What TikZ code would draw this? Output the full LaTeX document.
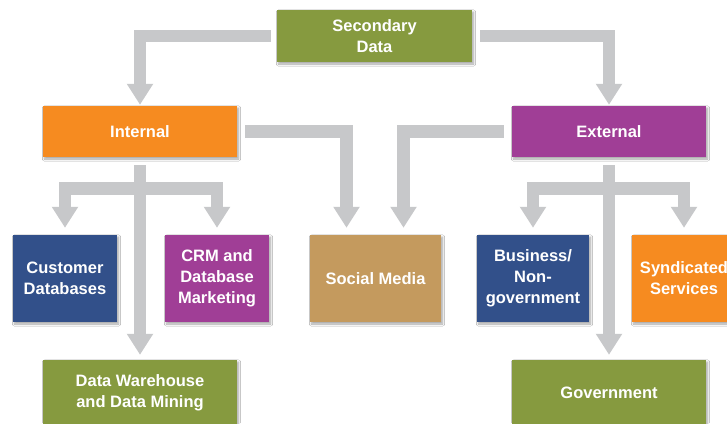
\documentclass[tikz,border=0pt]{standalone}
\usepackage{fontspec}
\setmainfont{Liberation Sans}
\usetikzlibrary{arrows.meta,shadows.blur}

\definecolor{boxgreen}{HTML}{869A3F}
\definecolor{boxorange}{HTML}{F68B20}
\definecolor{boxpurple}{HTML}{A03E96}
\definecolor{boxblue}{HTML}{32508A}
\definecolor{boxtan}{HTML}{C49A5E}
\definecolor{linkgray}{HTML}{C7C8CA}

\begin{document}
\begin{tikzpicture}[x=1pt,y=-1pt,
	box/.style={text=white,font=\bfseries\fontsize{16.5}{21}\selectfont,align=center,inner sep=0pt,
		blur shadow={shadow xshift=1.5pt,shadow yshift=-2pt,shadow blur steps=6,shadow opacity=35}},
	link/.style={draw=linkgray,line width=12.5pt,line join=miter,-{Triangle[width=25pt,length=21pt]}}]
	
	\useasboundingbox (0,0) rectangle (727,423);
	\fill[white] (0,0) rectangle (727,423);
	\clip (0,0) rectangle (727,423);
	
	% top and second row
	\node[box,fill=boxgreen,minimum width=195pt,minimum height=52pt] (sec) at (374.5,36) {Secondary\\Data};
	\node[box,fill=boxorange,minimum width=194pt,minimum height=51pt] (int) at (140,131.5) {Internal};
	\node[box,fill=boxpurple,minimum width=194pt,minimum height=51pt] (ext) at (609,131.5) {External};
	
	% third row
	\node[box,fill=boxblue,minimum width=104pt,minimum height=87pt] (cust) at (65,278.5) {Customer\\Databases};
	\node[box,fill=boxpurple,minimum width=104pt,minimum height=87pt] (crm) at (217,278.5) {CRM and\\Database\\Marketing};
	\node[box,fill=boxtan,minimum width=131pt,minimum height=87pt] (soc) at (375.5,278.5) {Social Media};
	\node[box,fill=boxblue,minimum width=112pt,minimum height=87pt] (bus) at (533,278.5) {Business/\\Non-\\government};
	\node[box,fill=boxorange,minimum width=104pt,minimum height=87pt] (syn) at (684,278.5) {Syndicated\\Services};
	
	% bottom row
	\node[box,fill=boxgreen,minimum width=194pt,minimum height=66pt] (dw) at (140,393) {Data Warehouse\\and Data Mining};
	\node[box,fill=boxgreen,minimum width=194pt,minimum height=66pt] (gov) at (609,393) {Government};
	
	\coordinate (ib) at (140,188.5);
	\coordinate (eb) at (609,188.5);
	
	\draw[link,shorten <=6pt,shorten >=1pt] (sec.west) -| (int.north);
	\draw[link,shorten <=8pt,shorten >=1pt] (sec.east) -| (ext.north);
	\draw[link,shorten <=8pt,shorten >=7pt] (int.east) -| ([xshift=-29pt]soc.north);
	\draw[link,shorten <=8pt,shorten >=7pt] (ext.west) -| ([xshift=28pt]soc.north);
	
	\draw[link,shorten <=8pt,shorten >=5pt] (int.south) -- (dw.north);
	\draw[link,shorten >=7pt] (ib) -| (cust.north);
	\draw[link,shorten >=7pt] (ib) -| (crm.north);
	
	\draw[link,shorten <=8pt,shorten >=5pt] (ext.south) -- (gov.north);
	\draw[link,shorten >=7pt] (eb) -| (bus.north);
	\draw[link,shorten >=7pt] (eb) -| (syn.north);
	
\end{tikzpicture}
\end{document}
